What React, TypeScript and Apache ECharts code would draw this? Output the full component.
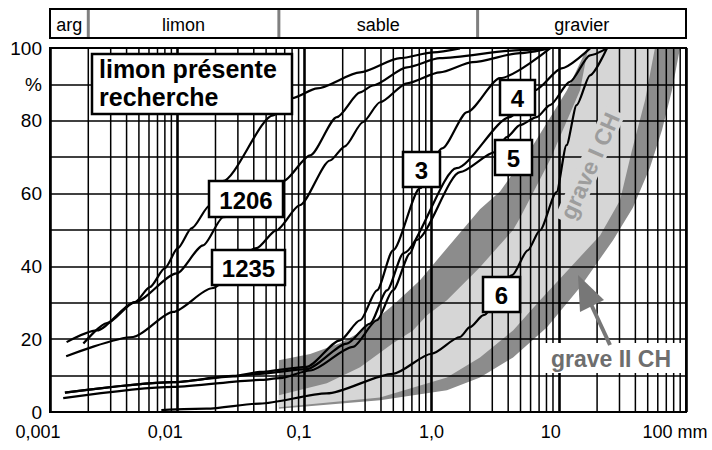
import React, { useEffect, useRef } from "react";
import * as echarts from "echarts";

// ---------- axes / ticks ----------
const X_MIN = 0.001;
const X_MAX = 100;
const xTickLabels = ["0,001", "0,01", "0,1", "1,0", "10", "100 mm"];
const decades = [0.001, 0.01, 0.1, 1, 10];
const minorMultipliers = [2, 3, 4, 5, 6, 7, 8, 9];

// ---------- soil classes (top bar) ----------
const soilClasses = ["arg", "limon", "sable", "gravier"];
const soilBounds = [0.001, 0.002, 0.063, 2.3, 100];

// ---------- grading curves [mm, % passing] ----------
const siltPresent = [
  [0.00183, 18.8], [0.0028, 24.4], [0.00466, 30.2], [0.0061, 34.3], [0.008, 39.5],
  [0.0101, 45.0], [0.013, 50.5], [0.0181, 56.8], [0.0228, 63.4], [0.0567, 81.5],
  [0.08, 86.2], [0.126, 88.9], [0.274, 93.3], [0.565, 97.2], [1.03, 98.8], [1.67, 99.9],
];
const silt1206 = [
  [0.00135, 19.2], [0.00233, 22.4], [0.00466, 30.2], [0.0099, 38.1], [0.016, 45.8],
  [0.023, 53.5], [0.068, 63.4], [0.111, 70.5], [0.18, 81.0], [0.274, 87.8],
  [0.346, 89.7], [0.641, 94.7], [1.16, 97.2], [4.95, 99.4], [8.53, 99.9],
];
const silt1235 = [
  [0.00134, 15.3], [0.0045, 20.6], [0.0093, 27.5], [0.0187, 34.0], [0.042, 45.0],
  [0.06, 49.9], [0.092, 56.8], [0.159, 69.1], [0.208, 73.0], [0.288, 79.6],
  [0.393, 85.1], [0.641, 90.3], [1.16, 93.3], [2.11, 96.1], [4.95, 98.6], [8.53, 99.9],
];
const gravel3 = [
  [0.00131, 5.3], [0.0093, 8.2], [0.0275, 9.9], [0.0446, 11.0], [0.104, 12.4],
  [0.191, 19.7], [0.274, 25.2], [0.372, 33.4], [0.497, 44.4], [0.811, 61.5],
  [1.21, 72.4], [1.9, 82.4], [3.45, 91.7], [8.53, 99.9],
];
const gravel4 = [
  [0.00131, 5.3], [0.0093, 8.2], [0.0275, 9.8], [0.0446, 10.5], [0.104, 11.8],
  [0.216, 18.8], [0.328, 24.3], [0.446, 33.4], [0.6, 43.6], [1.57, 67.0],
  [4.13, 81.0], [6.5, 88.4], [10.5, 94.4], [17.6, 99.9],
];
const gravel5 = [
  [0.00127, 3.8], [0.0093, 6.9], [0.0446, 8.8], [0.0643, 9.3], [0.111, 11.4],
  [0.241, 17.9], [0.372, 25.2], [0.497, 33.4], [0.677, 43.6], [0.76, 47.2],
  [1.67, 65.9], [3.15, 71.4], [3.89, 75.5], [4.95, 78.8], [6.7, 81.0],
  [8.53, 84.3], [12.2, 90.7], [17.6, 98.0], [23.9, 99.9],
];
const gravel6 = [
  [0.0075, 0.5], [0.017, 0.9], [0.0446, 2.3], [0.15, 5.1], [0.497, 10.5],
  [1.0, 16.0], [1.67, 20.6], [2.0, 23.3], [2.56, 26.6], [4.3, 37.6],
  [5.7, 44.4], [7.1, 49.9], [9.6, 60.4], [11.5, 73.3], [13.8, 84.3],
  [17.6, 92.5], [23.9, 99.9],
];

// ---------- specification bands (grave II outer, grave I inner) ----------
const graveIIUpper = [
  [0.063, 14.2], [0.111, 15.9], [0.19, 18.9], [0.274, 21.9], [0.497, 29.3],
  [0.811, 36.2], [1.32, 45.0], [2.4, 55.7], [3.45, 60.6], [6.27, 73.3],
  [11.6, 88.4], [16.7, 100],
];
const graveIILower = [
  [0.063, 0.9], [0.393, 3.2], [1.32, 6.0], [2.4, 9.5], [4.37, 15.0],
  [8.08, 23.3], [14.7, 34.3], [26.7, 47.2], [38.3, 56.2], [52.1, 67.2],
  [64.7, 77.4], [77.6, 88.4], [89.7, 100],
];
const graveIUpper = [
  [0.063, 4.6], [0.15, 7.9], [0.274, 12.3], [0.497, 18.9], [0.714, 22.4],
  [0.92, 26.6], [1.32, 30.7], [1.67, 34.3], [2.4, 39.8], [4.37, 50.0],
  [4.95, 53.3], [8.53, 69.2], [11.6, 80.1], [14.7, 88.4], [17.0, 100],
];
const graveILower = [
  [0.063, 1.3], [0.393, 4.0], [1.32, 9.5], [2.4, 15.0], [4.37, 22.4],
  [7.24, 31.0], [13.4, 41.1], [21.1, 48.5], [30.3, 58.2], [37.6, 71.9],
  [47.6, 85.6], [57.0, 100],
];

const FONT = "'Liberation Sans', Arial, Helvetica, sans-serif";
const ZTOP = 60;

export default function App() {
  const ref = useRef<HTMLDivElement>(null);

  useEffect(() => {
    document.body.style.margin = "0";
    const chart = echarts.init(ref.current!, null, { renderer: "svg" });

    const minorTicks: number[] = [];
    decades.forEach((d) =>
      minorMultipliers.forEach((m) => minorTicks.push(+(d * m).toPrecision(3)))
    );

    const bandPolys = [
      { fill: "#8c8c8c", pts: graveIIUpper.concat(graveIILower.slice().reverse()) },
      { fill: "#d6d6d6", pts: graveIUpper.concat(graveILower.slice().reverse()) },
    ];

    const curves = [siltPresent, silt1206, silt1235, gravel3, gravel4, gravel5, gravel6];

    const rich: any = {};
    const shifts = [24, 24, 11, 0, 16, 22];
    shifts.forEach((s, i) => {
      rich["s" + i] = {
        fontSize: 18,
        fontFamily: FONT,
        color: "#000",
        padding: [0, s, 0, 0],
      };
    });

    const boxText = (cx: number, cy: number, w: number, h: number, t: string) => [
      {
        type: "rect",
        z: ZTOP,
        shape: { x: cx - w / 2, y: cy - h / 2, width: w, height: h },
        style: { fill: "#fff", stroke: "#000", lineWidth: 2.5 },
      },
      {
        type: "text",
        z: ZTOP + 1,
        x: cx,
        y: cy + 1,
        style: {
          text: t,
          fill: "#000",
          font: `bold 24px ${FONT}`,
          align: "center",
          verticalAlign: "middle",
        },
      },
    ];

    const option: any = {
      animation: false,
      textStyle: { fontFamily: FONT },
      grid: [
        { left: 50, right: 26, top: 48, bottom: 38, show: true, borderColor: "#000", borderWidth: 2, backgroundColor: "transparent", z: 2 },
        { left: 50, right: 26, top: 9, height: 29, show: true, borderColor: "#000", borderWidth: 2, backgroundColor: "transparent", z: 4 },
      ],
      xAxis: [
        {
          type: "log",
          logBase: 10,
          min: X_MIN,
          max: X_MAX,
          gridIndex: 0,
          z: 2,
          axisLine: { show: true, lineStyle: { color: "#000", width: 2 } },
          axisTick: { show: false },
          splitLine: { show: true, lineStyle: { color: "#000", width: 2.6 } },
          axisLabel: {
            margin: 11,
            formatter: (v: number) => {
              const i = Math.round(Math.log10(v)) + 3;
              return `{s${i}|${xTickLabels[i]}}`;
            },
            rich,
          },
        },
        { type: "log", logBase: 10, min: X_MIN, max: X_MAX, gridIndex: 1, show: false },
      ],
      yAxis: [
        {
          type: "value",
          min: 0,
          max: 100,
          interval: 10,
          gridIndex: 0,
          z: 2,
          axisLine: { show: true, lineStyle: { color: "#000", width: 2 } },
          axisTick: { show: false },
          splitLine: { show: true, lineStyle: { color: "#000", width: 1.6 } },
          axisLabel: {
            margin: 8,
            fontSize: 19,
            color: "#000",
            fontFamily: FONT,
            formatter: (v: number) => (v === 90 ? "%" : v % 20 === 0 ? String(v) : ""),
          },
        },
        { type: "value", min: 0, max: 1, gridIndex: 1, show: false },
      ],
      series: [
        {
          type: "custom",
          name: "bands",
          xAxisIndex: 0,
          yAxisIndex: 0,
          z: 1,
          silent: true,
          data: [[0.1, 50], [0.1, 50]],
          renderItem: (params: any, api: any) => {
            const b = bandPolys[params.dataIndex];
            return {
              type: "polygon",
              shape: { points: b.pts.map((p) => api.coord(p)) },
              style: { fill: b.fill },
            };
          },
        },
        {
          type: "custom",
          name: "minorGrid",
          xAxisIndex: 0,
          yAxisIndex: 0,
          z: 2,
          silent: true,
          data: minorTicks.map((v) => [v, 0]),
          renderItem: (params: any, api: any) => {
            const v = api.value(0);
            const a = api.coord([v, 0]);
            const b = api.coord([v, 100]);
            return {
              type: "line",
              shape: { x1: a[0], y1: a[1], x2: b[0], y2: b[1] },
              style: { stroke: "#000", lineWidth: 1.5 },
            };
          },
        },
        ...curves.map((c) => ({
          type: "line",
          xAxisIndex: 0,
          yAxisIndex: 0,
          data: c,
          showSymbol: false,
          smooth: 0.25,
          smoothMonotone: "x",
          silent: true,
          z: 3,
          lineStyle: { color: "#000", width: 2.2 },
        })),
        {
          type: "custom",
          name: "soil",
          xAxisIndex: 1,
          yAxisIndex: 1,
          z: 3,
          silent: true,
          data: soilClasses.map((c, i) => [soilBounds[i], soilBounds[i + 1], i]),
          renderItem: (params: any, api: any) => {
            const i = params.dataIndex;
            const p0 = api.coord([api.value(0), 1]);
            const p1 = api.coord([api.value(1), 0]);
            const children: any[] = [
              {
                type: "rect",
                shape: { x: p0[0], y: p0[1], width: p1[0] - p0[0], height: p1[1] - p0[1] },
                style: { fill: "#fff" },
              },
              {
                type: "text",
                x: (p0[0] + p1[0]) / 2,
                y: (p0[1] + p1[1]) / 2 + 1,
                style: {
                  text: soilClasses[i],
                  fill: "#000",
                  font: `18px ${FONT}`,
                  align: "center",
                  verticalAlign: "middle",
                },
              },
            ];
            if (i > 0) {
              children.push({
                type: "line",
                shape: { x1: p0[0], y1: p0[1], x2: p0[0], y2: p1[1] },
                style: { stroke: "#808080", lineWidth: 3 },
              });
            }
            return { type: "group", children };
          },
        },
      ],
      graphic: [
        {
          type: "rect",
          z: ZTOP,
          shape: { x: 92, y: 54, width: 200, height: 60 },
          style: { fill: "#fff", stroke: "#000", lineWidth: 2.5 },
        },
        {
          type: "text",
          z: ZTOP + 1,
          x: 99,
          y: 55,
          style: {
            text: "limon présente\nrecherche",
            fill: "#000",
            font: `bold 25px ${FONT}`,
            lineHeight: 28,
            align: "left",
            verticalAlign: "top",
          },
        },
        ...boxText(246, 199, 74, 36, "1206"),
        ...boxText(248.5, 267.5, 73, 35, "1235"),
        ...boxText(421.5, 169.5, 37, 35, "3"),
        ...boxText(517.5, 97.5, 35, 35, "4"),
        ...boxText(513.5, 157.5, 37, 35, "5"),
        ...boxText(501.5, 294.5, 37, 35, "6"),
        {
          type: "text",
          z: ZTOP,
          x: 590,
          y: 166,
          rotation: 1.15,
          style: {
            text: "grave I CH",
            fill: "#9d9d9d",
            font: `bold 23px ${FONT}`,
            align: "center",
            verticalAlign: "middle",
            backgroundColor: "#d6d6d6",
            padding: [0, 4],
          },
        },
        {
          type: "rect",
          z: ZTOP,
          shape: { x: 540, y: 343, width: 142, height: 30 },
          style: { fill: "#fff" },
        },
        {
          type: "text",
          z: ZTOP + 1,
          x: 611,
          y: 359,
          style: {
            text: "grave II CH",
            fill: "#6e6e6e",
            font: `bold 23px ${FONT}`,
            align: "center",
            verticalAlign: "middle",
          },
        },
        {
          type: "line",
          z: ZTOP + 1,
          shape: { x1: 610, y1: 345, x2: 590, y2: 302 },
          style: { stroke: "#777", lineWidth: 4 },
        },
        {
          type: "polygon",
          z: ZTOP + 1,
          shape: { points: [[578, 275], [580, 312], [604, 300]] },
          style: { fill: "#777" },
        },
      ],
    };

    chart.setOption(option);
    return () => chart.dispose();
  }, []);

  return <div ref={ref} style={{ width: 712, height: 450 }} />;
}
